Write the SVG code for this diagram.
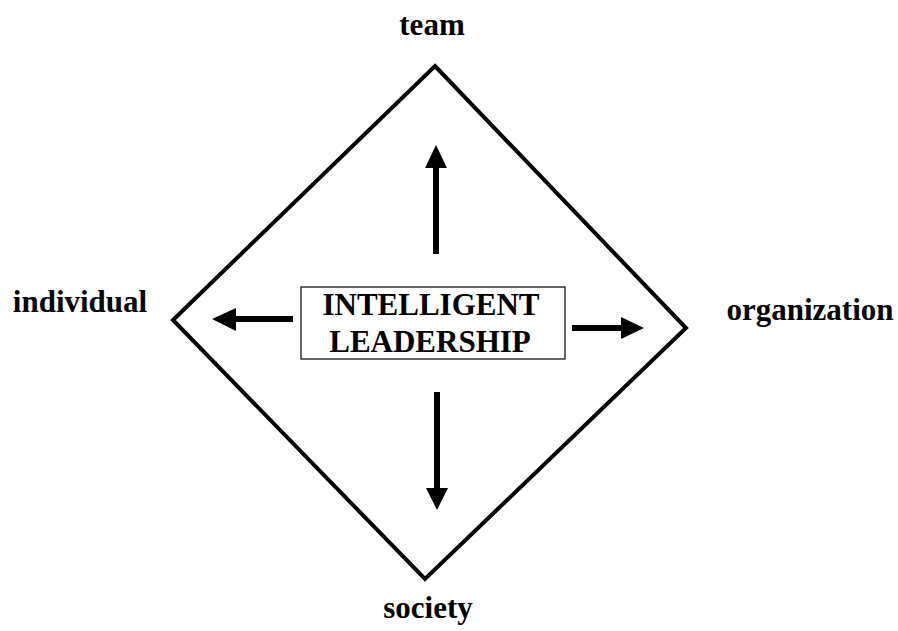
<svg xmlns="http://www.w3.org/2000/svg" width="898" height="631" viewBox="0 0 898 631">
<defs>
<style>
text{font-family:"Liberation Serif","Times New Roman",serif;font-weight:bold;font-size:31px;fill:#000}
.shaft{stroke:#000;stroke-width:6;fill:none}
.head{fill:#000;stroke:none}
</style>
</defs>
<rect width="898" height="631" fill="#fff"/>
<g id="diamond">
<polygon points="435,66 686,328 425,579 173,320" fill="none" stroke="#000" stroke-width="4" stroke-linejoin="miter"/>
</g>
<g id="center">
<rect x="301" y="287" width="264" height="72" fill="#fff" stroke="#000" stroke-width="1.2"/>
<text x="431" y="315" text-anchor="middle">INTELLIGENT</text>
<text x="430" y="352" text-anchor="middle">LEADERSHIP</text>
</g>
<g id="team"><text x="432" y="35" text-anchor="middle">team</text></g>
<g id="individual"><text x="80" y="312" text-anchor="middle">individual</text></g>
<g id="organization"><text x="810" y="320" text-anchor="middle">organization</text></g>
<g id="society"><text x="428" y="618" text-anchor="middle">society</text></g>
<g id="connectors">
<line class="shaft" x1="436" y1="254" x2="436" y2="165"/>
<polygon class="head" points="436,145 447,168 425,168"/>
<line class="shaft" x1="293" y1="319" x2="233" y2="319"/>
<polygon class="head" points="212,319 236,308 236,331"/>
<line class="shaft" x1="572" y1="328" x2="624" y2="328"/>
<polygon class="head" points="644,328 621,317 621,339"/>
<line class="shaft" x1="437" y1="392" x2="437" y2="490"/>
<polygon class="head" points="437,510 426,488 448,488"/>
</g>
</svg>
